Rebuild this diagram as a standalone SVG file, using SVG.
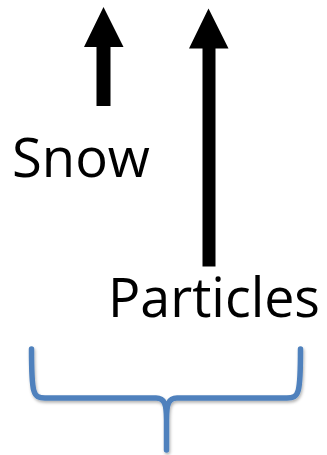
<svg xmlns="http://www.w3.org/2000/svg" width="327" height="455" viewBox="0 0 327 455">
  <style>
    .lbl { font-family: "Open Sans", "Liberation Sans", sans-serif; font-size: 55px; fill: #000; }
    .arrow { fill: #000; }
    .brace { fill: none; stroke: #4f81bd; stroke-width: 5.5; stroke-linecap: round; stroke-linejoin: round; }
  </style>
  <defs>
    <filter id="shadow" x="-10%" y="-10%" width="120%" height="130%">
      <feDropShadow dx="1" dy="2" stdDeviation="1.5" flood-color="#000" flood-opacity="0.3"/>
    </filter>
  </defs>
  <rect width="327" height="455" fill="#fff"/>
  <g id="connectors">
    <polygon class="arrow" points="103.5,7 123.5,47 110.5,47 110.5,106 96.5,106 96.5,47 84,47"/>
    <polygon class="arrow" points="208.5,8.5 228.5,48.5 215.5,48.5 215.5,266.5 202.5,266.5 202.5,48.5 189,48.5"/>
  </g>
  <g id="snow">
    <text class="lbl" x="12" y="177" textLength="138" lengthAdjust="spacingAndGlyphs">Snow</text>
  </g>
  <g id="particles">
    <text class="lbl" x="108" y="317" textLength="212" lengthAdjust="spacingAndGlyphs">Particles</text>
  </g>
  <g id="brace" filter="url(#shadow)">
    <path class="brace" d="M31.5,349 C31.5,394 33,398 45,398 L156,398 C164.5,398 166.5,404 166.5,420 L166.5,450 M300.5,349 C300.5,394 299,398 287,398 L177,398 C168.5,398 166.5,404 166.5,420"/>
  </g>
</svg>
